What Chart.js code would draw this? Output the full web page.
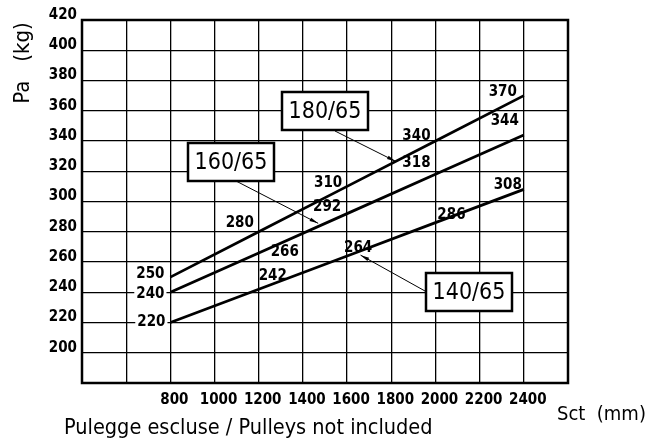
<!DOCTYPE html>
<html>
<head>
<meta charset="utf-8">
<script src="https://cdn.jsdelivr.net/npm/chart.js@4.4.1/dist/chart.umd.min.js"></script>
<style>
  html, body { margin: 0; padding: 0; background: #fff; }
  #wrap { width: 666px; height: 443px; position: relative; }
</style>
</head>
<body>
<div id="wrap"><canvas id="grafico"></canvas></div>
<script>
// corsa (mm) and carico ammissibile (kg) for each model
const sct = [800, 1200, 1600, 2000, 2400];
const pa180 = [250, 280, 310, 340, 370];
const pa160 = [240, 266, 292, 318, 344];
const pa140 = [220, 242, 264, 286, 308];
const modelli = ['180/65', '160/65', '140/65'];

const xTicks = [800, 1000, 1200, 1400, 1600, 1800, 2000, 2200, 2400];
const yTicks = [200, 220, 240, 260, 280, 300, 320, 340, 360, 380, 400, 420];

const FONT = '"DejaVu Sans Condensed", "DejaVu Sans", sans-serif';

// label offsets (px) from each point, per series
const offsets = [
    [[-20, -3], [-19, -9], [-19, -3], [-19, -5], [-21, -4]],
    [[-20, 2], [26, -1], [-20, -6], [-19, -11], [-19, -14]],
    [[-19, 0], [14, -13], [11, -8], [16, -8], [-16, -4]]
];

// model boxes: box centre and the point on the line the arrow goes to
const boxes = [
    { ds: 0, cx: 325, cy: 111, from: [335, 131], at: 1820, tip: [0, 0] },
    { ds: 1, cx: 231, cy: 162, from: [236, 181], at: 1460, tip: [2, -4] },
    { ds: 2, cx: 469, cy: 292, from: [425, 291], at: 1670, tip: [-2, 5] }
];

const series = [pa180, pa160, pa140];

const decorazioni = {
    id: 'decorazioni',
    afterDatasetsDraw(chart) {
        const { ctx } = chart;
        const xs = chart.scales.x, ys = chart.scales.y;
        ctx.save();

        // value labels along the lines
        ctx.font = 'bold 15px ' + FONT;
        ctx.textAlign = 'center';
        ctx.textBaseline = 'middle';
        series.forEach((vals, s) => {
            vals.forEach((v, i) => {
                const px = xs.getPixelForValue(sct[i]) + offsets[s][i][0];
                const py = ys.getPixelForValue(v) + offsets[s][i][1];
                if (i === 0 && s > 0) {
                    // first label sits on the grid line: clear it behind the text
                    const w = ctx.measureText(String(v)).width;
                    ctx.fillStyle = '#fff';
                    ctx.fillRect(px - w / 2 - 2, py - 6, w + 4, 12);
                }
                ctx.fillStyle = '#000';
                ctx.fillText(String(v), px, py);
            });
        });

        // model boxes with leader arrows
        boxes.forEach(b => {
            const vals = series[b.ds];
            const k = (b.at - sct[0]) / (sct[sct.length - 1] - sct[0]);
            const v = vals[0] + k * (vals[vals.length - 1] - vals[0]);
            const tx = xs.getPixelForValue(b.at) + b.tip[0];
            const ty = ys.getPixelForValue(v) + b.tip[1];
            const [fx, fy] = b.from;

            ctx.strokeStyle = '#000';
            ctx.lineWidth = 1;
            ctx.beginPath();
            ctx.moveTo(fx, fy);
            ctx.lineTo(tx, ty);
            ctx.stroke();
            const a = Math.atan2(ty - fy, tx - fx);
            ctx.fillStyle = '#000';
            ctx.beginPath();
            ctx.moveTo(tx, ty);
            ctx.lineTo(tx - 9 * Math.cos(a - 0.2), ty - 9 * Math.sin(a - 0.2));
            ctx.lineTo(tx - 9 * Math.cos(a + 0.2), ty - 9 * Math.sin(a + 0.2));
            ctx.closePath();
            ctx.fill();

            const w = 86, h = 38;
            ctx.fillStyle = '#fff';
            ctx.fillRect(b.cx - w / 2, b.cy - h / 2, w, h);
            ctx.lineWidth = 2.5;
            ctx.strokeRect(b.cx - w / 2, b.cy - h / 2, w, h);
            ctx.fillStyle = '#000';
            ctx.font = '23px ' + FONT;
            ctx.fillText(modelli[b.ds], b.cx, b.cy + 1);
        });

        ctx.restore();
    },
    afterDraw(chart) {
        const { ctx, chartArea } = chart;
        ctx.save();
        ctx.fillStyle = '#000';
        ctx.textBaseline = 'middle';

        // frame
        ctx.strokeStyle = '#000';
        ctx.lineWidth = 2.5;
        ctx.strokeRect(chartArea.left, chartArea.top,
            chartArea.right - chartArea.left, chartArea.bottom - chartArea.top);

        // axis titles
        ctx.font = '20px ' + FONT;
        ctx.textAlign = 'left';
        ctx.fillText('Sct  (mm)', 557, 415);
        ctx.font = '21.5px ' + FONT;
        ctx.fillText('Pulegge escluse / Pulleys not included', 64, 428);

        ctx.translate(23, 63);
        ctx.rotate(-Math.PI / 2);
        ctx.textAlign = 'center';
        ctx.font = '22px ' + FONT;
        ctx.fillText('Pa   (kg)', 0, 0);
        ctx.restore();
    }
};

new Chart(document.getElementById('grafico'), {
    type: 'line',
    data: {
        datasets: series.map((vals, s) => ({
            label: modelli[s],
            data: sct.map((x, i) => ({ x: x, y: vals[i] })),
            borderColor: '#000',
            borderWidth: 2.8,
            pointRadius: 0,
            tension: 0,
            fill: false
        }))
    },
    options: {
        responsive: true,
        maintainAspectRatio: false,
        animation: false,
        layout: { padding: { left: 0, top: 20, right: 98, bottom: 28 } },
        plugins: {
            legend: { display: false },
            tooltip: { enabled: false }
        },
        scales: {
            x: {
                type: 'linear',
                min: 400,
                max: 2600,
                border: { display: false },
                grid: { color: '#000', lineWidth: 1.3, drawTicks: false },
                afterFit(scale) { scale.height = 32; },
                ticks: {
                    stepSize: 200,
                    padding: 8,
                    labelOffset: 4,
                    color: '#000',
                    font: { family: FONT, size: 15, weight: 'bold' },
                    maxRotation: 0,
                    autoSkip: false,
                    callback: v => xTicks.includes(v) ? String(v) : ''
                }
            },
            y: {
                min: 180,
                max: 420,
                border: { display: false },
                grid: { color: '#000', lineWidth: 1.3, drawTicks: false },
                afterFit(scale) { scale.width = 82; },
                ticks: {
                    stepSize: 20,
                    padding: 5,
                    labelOffset: -5,
                    color: '#000',
                    font: { family: FONT, size: 15, weight: 'bold' },
                    autoSkip: false,
                    callback: v => yTicks.includes(v) ? String(v) : ''
                }
            }
        }
    },
    plugins: [decorazioni]
});
</script>
</body>
</html>
